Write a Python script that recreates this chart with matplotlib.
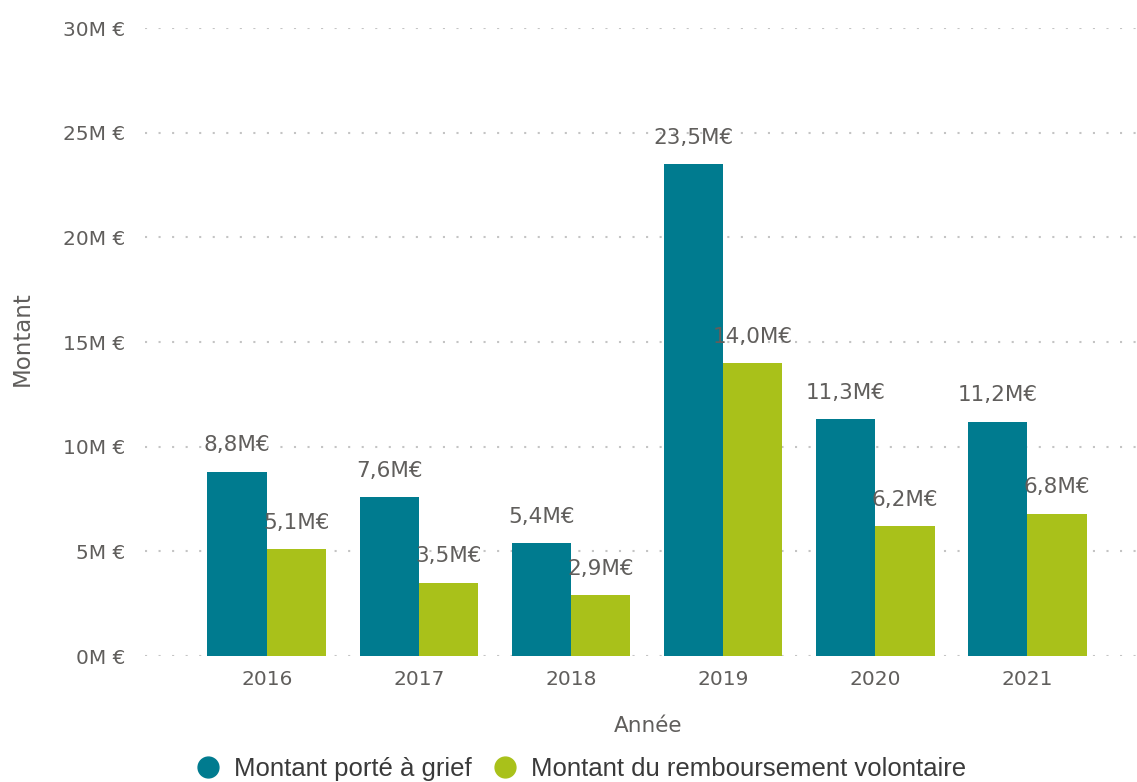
import matplotlib
matplotlib.use("Agg")
import matplotlib.pyplot as plt
import numpy as np
from matplotlib.lines import Line2D

# données (millions d'euros)
annees = ["2016", "2017", "2018", "2019", "2020", "2021"]
montant_grief = [8.8, 7.6, 5.4, 23.5, 11.3, 11.2]
montant_remboursement = [5.1, 3.5, 2.9, 14.0, 6.2, 6.8]
serie_noms = ["Montant porté à grief", "Montant du remboursement volontaire"]
y_ticks = [0, 5, 10, 15, 20, 25, 30]

bleu = "#007B8F"
vert = "#A9C11A"
gris_texte = "#605E5C"

plt.rcParams['font.family'] = ['DejaVu Sans']

fig = plt.figure(figsize=(11.37, 7.82), dpi=100)
ax = fig.add_axes([0.1275, 0.1611, 0.8725, 0.8030])

x = np.arange(len(annees))
w = 0.39
b1 = ax.bar(x - w / 2, montant_grief, w, color=bleu, zorder=3)
b2 = ax.bar(x + w / 2, montant_remboursement, w, color=vert, zorder=3)

# étiquettes de valeur au-dessus des barres
for bars, vals in ((b1, montant_grief), (b2, montant_remboursement)):
    for rect, v in zip(bars, vals):
        lab = f"{v:.1f}".replace(".", ",") + "M€"
        ax.annotate(lab, (rect.get_x() + rect.get_width() / 2, v),
                    xytext=(0, 19), textcoords="offset points",
                    ha="center", va="center", fontsize=15.5,
                    color=gris_texte, zorder=4)

ax.set_xlim(-0.80, 5.72)
ax.set_ylim(0, 30)
ax.set_yticks(y_ticks)
ax.set_yticklabels([f"{t}M €" for t in y_ticks])
ax.set_xticks(x)
ax.set_xticklabels(annees)
ax.tick_params(axis="both", length=0, labelsize=14.5, colors=gris_texte)
ax.tick_params(axis="y", pad=14)
ax.tick_params(axis="x", pad=10)

ax.grid(axis="y", color="#C4C4C4", linestyle=(0, (1, 5.5)), linewidth=1.5, zorder=0)
for s in ax.spines.values():
    s.set_visible(False)

ax.set_xlabel("Année", fontsize=15.5, color=gris_texte, labelpad=12)
ax.set_ylabel("Montant", fontsize=16.5, color=gris_texte, labelpad=12)
ax.yaxis.set_label_coords(-0.112, 0.505)
ax.xaxis.set_label_coords(0.507, -0.095)

handles = [Line2D([], [], marker="o", linestyle="", markersize=15, color=c)
           for c in (bleu, vert)]
fig.legend(handles, serie_noms, loc="center", bbox_to_anchor=(0.505, 0.016),
           ncol=2, frameon=False, handletextpad=0.0, columnspacing=0.3,
           prop={"family": ["Liberation Sans"], "size": 18.5},
           labelcolor="#3A3A3A")

fig.savefig("out.png", dpi=100)
